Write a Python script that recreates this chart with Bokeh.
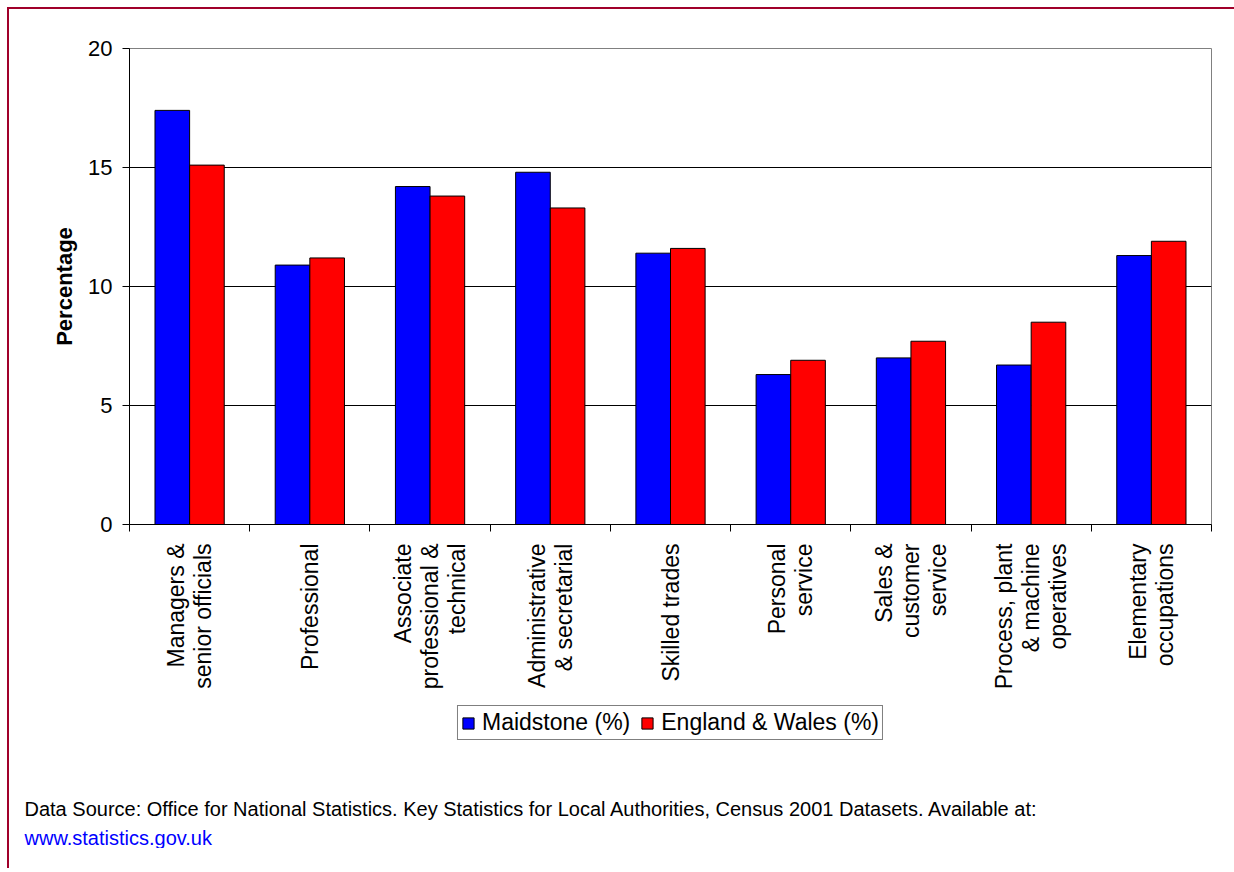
import numpy as np
from bokeh.plotting import figure
from bokeh.layouts import column
from bokeh.models import (FixedTicker, Range1d, Legend, LegendItem, Title, ColumnDataSource)
from bokeh.embed import file_html
from bokeh.resources import INLINE

categories = ["Managers &\nsenior officials", "Professional", "Associate\nprofessional &\ntechnical",
              "Administrative\n& secretarial", "Skilled trades", "Personal\nservice",
              "Sales &\ncustomer\nservice", "Process, plant\n& machine\noperatives", "Elementary\noccupations"]
maidstone = [17.4, 10.9, 14.2, 14.8, 11.4, 6.3, 7.0, 6.7, 11.3]
england_wales = [15.1, 11.2, 13.8, 13.3, 11.6, 6.9, 7.7, 8.5, 11.9]
y_ticks = [0, 5, 10, 15, 20]
series_names = ["Maidstone (%)", "England & Wales (%)"]
series_colors = ["#0000FF", "#FF0000"]
source_text = ("Data Source: Office for National Statistics. Key Statistics for Local Authorities, "
               "Census 2001 Datasets. Available at:")
link_text = "www.statistics.gov.uk"

FONT = "Liberation Sans"
n = len(categories)
centers = np.arange(n) + 0.5
bw = 0.288

src_a = ColumnDataSource(dict(x=centers - bw / 2, top=maidstone))
src_b = ColumnDataSource(dict(x=centers + bw / 2, top=england_wales))

# ---------------- main chart ----------------
p = figure(width=1225, height=691, output_backend="svg", toolbar_location=None,
           x_range=Range1d(0, n), y_range=Range1d(0, 20),
           min_border_left=120, min_border_top=39, min_border_right=23, min_border_bottom=176)
p.background_fill_color = "white"
p.border_fill_color = "white"
p.outline_line_color = "#808080"

p.vbar(x="x", top="top", width=bw, source=src_a, fill_color=series_colors[0], line_color="black", line_width=1)
p.vbar(x="x", top="top", width=bw, source=src_b, fill_color=series_colors[1], line_color="black", line_width=1)

xa = p.xaxis[0]
xa.ticker = FixedTicker(ticks=list(centers), minor_ticks=list(range(n + 1)))
xa.major_label_overrides = {float(c): lab for c, lab in zip(centers, categories)}
xa.major_label_orientation = np.pi / 2
xa.major_tick_out = 0
xa.major_tick_in = 0
xa.minor_tick_out = 7
xa.minor_tick_in = 0
xa.minor_tick_line_color = "black"
xa.axis_line_color = "black"
xa.major_label_text_font = FONT
xa.major_label_text_font_size = "23px"
xa.major_label_text_color = "black"
xa.major_label_standoff = 12
xa.major_label_text_line_height = 1.05

ya = p.yaxis[0]
ya.ticker = FixedTicker(ticks=y_ticks, minor_ticks=[])
ya.major_tick_out = 7
ya.major_tick_in = 0
ya.major_tick_line_color = "black"
ya.axis_line_color = "black"
ya.major_label_text_font = FONT
ya.major_label_text_font_size = "22px"
ya.major_label_text_color = "black"
ya.major_label_standoff = 10
ya.axis_label = "Percentage"
ya.axis_label_text_font = FONT
ya.axis_label_text_font_size = "22px"
ya.axis_label_text_font_style = "bold"
ya.axis_label_text_color = "black"
ya.axis_label_standoff = 8

p.xgrid.visible = False
p.ygrid.grid_line_color = "black"
p.ygrid.grid_line_width = 1

# ---------------- legend + source note ----------------
q = figure(width=1225, height=148, output_backend="svg", toolbar_location=None,
           x_range=Range1d(0, n), y_range=Range1d(0, 20),
           x_axis_type=None, y_axis_type=None, min_border=0)
q.outline_line_color = None
q.grid.visible = False
q.background_fill_color = "white"
q.border_fill_color = "white"

# hidden renderers that only supply the legend keys (same series styles)
k1 = q.vbar(x="x", top="top", width=bw, source=src_a, fill_color=series_colors[0], line_color="black")
k2 = q.vbar(x="x", top="top", width=bw, source=src_b, fill_color=series_colors[1], line_color="black")
k1.visible = False
k2.visible = False
legend = Legend(items=[LegendItem(label=series_names[0], renderers=[k1]),
                       LegendItem(label=series_names[1], renderers=[k2])],
                location="top_center", orientation="horizontal",
                border_line_color="black", border_line_width=1,
                background_fill_color="white", background_fill_alpha=1,
                glyph_width=14, glyph_height=14, label_standoff=7, spacing=10,
                padding=3, margin=5, click_policy="none",
                inactive_fill_alpha=0.0,
                label_text_font=FONT, label_text_font_size="23px", label_text_color="black")
q.add_layout(legend, "center")

t1 = Title(text=source_text, align="left", offset=-105, standoff=10,
           text_font=FONT, text_font_size="20px", text_font_style="normal", text_color="black")
t2 = Title(text=link_text, align="left", offset=-105, standoff=0,
           text_font=FONT, text_font_size="20px", text_font_style="normal", text_color="#0000FF")
q.add_layout(t1, "below")
q.add_layout(t2, "below")

page = column(p, q, spacing=0,
              styles={"border-top": "2px solid #A0002A", "border-left": "2px solid #A0002A",
                      "margin-left": "7px", "margin-top": "7px", "min-height": "861px"})

open("out.html", "w").write(file_html(page, INLINE))
